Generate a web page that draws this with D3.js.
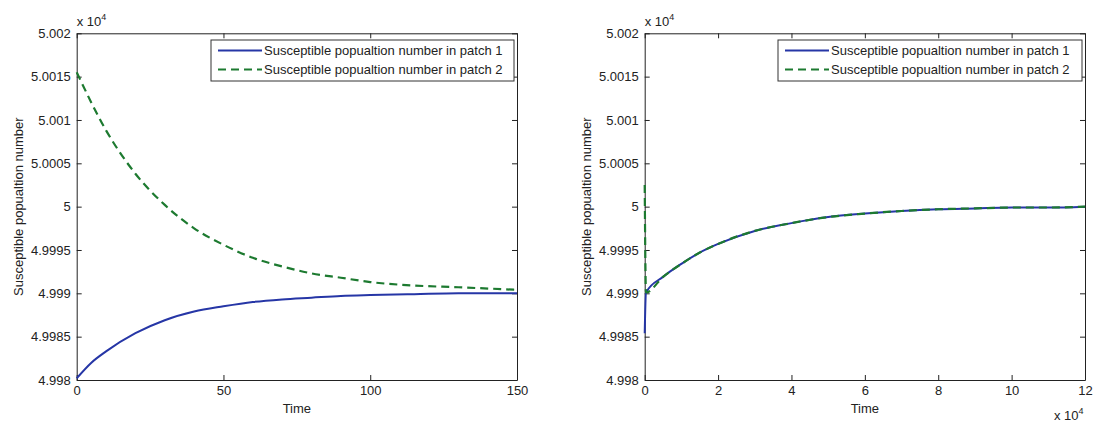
<!DOCTYPE html>
<html>
<head>
<meta charset="utf-8">
<script src="https://cdn.jsdelivr.net/npm/d3@7"></script>
<style>
  html, body { margin: 0; padding: 0; background: #fff; }
  svg text { font-family: "Liberation Sans", Arial, sans-serif; fill: #222; }
</style>
</head>
<body>
<svg id="chart" width="1096" height="427"></svg>
<script>
// ---- data (values in units of x 10^4) ----
const seriesNames = ["Susceptible popualtion number in patch 1", "Susceptible popualtion number in patch 2"];

const leftBlueT = [0, 5, 10, 20, 30, 40, 50, 60, 70, 80, 90, 100, 115, 130, 150];
const leftBlueV = [4.99802, 4.99820, 4.99833, 4.99854, 4.99869, 4.99879, 4.99885, 4.99890, 4.99893, 4.99895, 4.99897, 4.99898, 4.99899, 4.99900, 4.99900];

const leftGreenT = [0, 10, 20, 30, 40, 50, 60, 70, 80, 90, 100, 115, 130, 150];
const leftGreenV = [5.00155, 5.00088, 5.00038, 5.00002, 4.99975, 4.99956, 4.99941, 4.99931, 4.99923, 4.99918, 4.99913, 4.99909, 4.99907, 4.99904];

const rightT = [0, 0.035, 0.5, 1, 1.5, 2, 3, 4, 5, 6, 7, 8, 9, 10, 11, 12];
const rightBlueV = [4.99854, 4.99901, 4.99919, 4.99934, 4.99947, 4.99957, 4.99972, 4.99981, 4.99988, 4.99992, 4.99995, 4.99997, 4.99998, 4.99999, 4.99999, 5.00000];
const rightGreenV = [5.00025, 4.99901, 4.99919, 4.99934, 4.99947, 4.99957, 4.99972, 4.99981, 4.99988, 4.99992, 4.99995, 4.99997, 4.99998, 4.99999, 4.99999, 5.00000];

const yTicks = [4.998, 4.9985, 4.999, 4.9995, 5.0, 5.0005, 5.001, 5.0015, 5.002];
const yTickLabels = ["4.998", "4.9985", "4.999", "4.9995", "5", "5.0005", "5.001", "5.0015", "5.002"];
const leftXTicks = [0, 50, 100, 150];
const rightXTicks = [0, 2, 4, 6, 8, 10, 12];

const xLabel = "Time";
const yLabel = "Susceptible popualtion number";

// ---- drawing ----
const svg = d3.select("#chart");
const BLUE = "#2636a6", GREEN = "#1d7a30";

function panel(opts) {
  const {x0, x1, y0, y1, xDomain, xTicks, blue, green, xExp} = opts;
  const g = svg.append("g");
  const x = d3.scaleLinear().domain(xDomain).range([x0, x1]);
  const y = d3.scaleLinear().domain([4.998, 5.002]).range([y1, y0]);

  g.append("rect").attr("x", x0).attr("y", y0).attr("width", x1 - x0).attr("height", y1 - y0).attr("fill", "#fff");

  const tf = (v) => yTickLabels[yTicks.indexOf(v)];
  const la = g.append("g").attr("transform", `translate(${x0},0)`)
    .call(d3.axisLeft(y).tickValues(yTicks).tickFormat(tf).tickSizeInner(-5).tickSizeOuter(0).tickPadding(6));
  la.selectAll("text").attr("font-size", 13);
  g.append("g").attr("transform", `translate(${x1},0)`)
    .call(d3.axisRight(y).tickValues(yTicks).tickFormat("").tickSizeInner(-5).tickSizeOuter(0));
  const ba = g.append("g").attr("transform", `translate(0,${y1})`)
    .call(d3.axisBottom(x).tickValues(xTicks).tickFormat(d3.format("d")).tickSizeInner(-5).tickSizeOuter(0).tickPadding(6));
  ba.selectAll("text").attr("font-size", 13);
  g.append("g").attr("transform", `translate(0,${y0})`)
    .call(d3.axisTop(x).tickValues(xTicks).tickFormat("").tickSizeInner(-5).tickSizeOuter(0));
  g.selectAll(".domain").attr("stroke", "#222");
  g.selectAll(".tick line").attr("stroke", "#222");

  const clipId = "clip" + Math.round(x0);
  svg.append("clipPath").attr("id", clipId).append("rect")
    .attr("x", x0 - 2).attr("y", y0).attr("width", x1 - x0 + 2).attr("height", y1 - y0);

  const line = d3.line().x(d => x(d[0])).y(d => y(d[1])).curve(d3.curveMonotoneX);
  const lines = g.append("g").attr("clip-path", `url(#${clipId})`);
  lines.append("path").datum(blue).attr("d", line)
    .attr("fill", "none").attr("stroke", BLUE).attr("stroke-width", 2);
  lines.append("path").datum(green).attr("d", line)
    .attr("fill", "none").attr("stroke", GREEN).attr("stroke-width", 2.2).attr("stroke-dasharray", "8,5");

  const ex = g.append("text").attr("x", x0).attr("y", 26).attr("font-size", 13);
  ex.append("tspan").text("x 10");
  ex.append("tspan").attr("font-size", 9).attr("dy", -6).text("4");

  if (xExp) {
    const ex2 = g.append("text").attr("x", x1 - 31).attr("y", 420).attr("font-size", 13);
    ex2.append("tspan").text("x 10");
    ex2.append("tspan").attr("font-size", 9).attr("dy", -6).text("4");
  }

  g.append("text").attr("x", (x0 + x1) / 2).attr("y", 413).attr("text-anchor", "middle")
    .attr("font-size", 13).text(xLabel);
  g.append("text").attr("transform", `translate(${x0 - 54},${(y0 + y1) / 2}) rotate(-90)`)
    .attr("text-anchor", "middle").attr("font-size", 13).text(yLabel);

  const lx = opts.legendX, ly = 40, lw = x1 - 3 - opts.legendX, lh = 41;
  const lg = g.append("g");
  lg.append("rect").attr("x", lx).attr("y", ly).attr("width", lw).attr("height", lh)
    .attr("fill", "#fff").attr("stroke", "#333").attr("stroke-width", 1);
  const rows = [{c: BLUE, dash: null, w: 2}, {c: GREEN, dash: "8,5", w: 2.2}];
  rows.forEach((r, i) => {
    const yy = ly + 10.5 + i * 19;
    lg.append("line").attr("x1", lx + 7).attr("x2", lx + 51).attr("y1", yy).attr("y2", yy)
      .attr("stroke", r.c).attr("stroke-width", r.w).attr("stroke-dasharray", r.dash);
    lg.append("text").attr("x", lx + 53).attr("y", yy + 4.5).attr("font-size", 13).text(seriesNames[i]);
  });
}

panel({
  x0: 76.7, x1: 517, y0: 33.3, y1: 380, xDomain: [0, 150], xTicks: leftXTicks,
  blue: leftBlueT.map((t, i) => [t, leftBlueV[i]]),
  green: leftGreenT.map((t, i) => [t, leftGreenV[i]]),
  legendX: 211, xExp: false
});
panel({
  x0: 644.7, x1: 1085, y0: 33.3, y1: 380, xDomain: [0, 12], xTicks: rightXTicks,
  blue: rightT.map((t, i) => [t, rightBlueV[i]]),
  green: rightT.map((t, i) => [t, rightGreenV[i]]),
  legendX: 778, xExp: true
});
</script>
</body>
</html>
